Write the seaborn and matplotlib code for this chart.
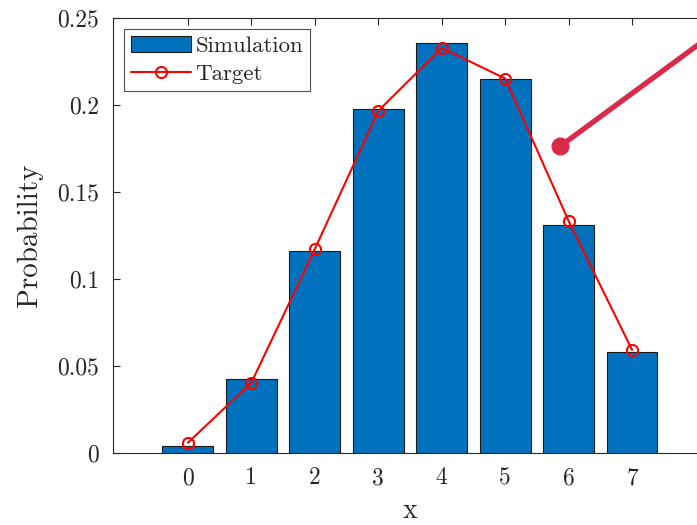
import numpy as np
import pandas as pd
import seaborn as sns
import matplotlib.pyplot as plt

# values
xs = [0, 1, 2, 3, 4, 5, 6, 7]
simulation = [0.0042, 0.0425, 0.116, 0.1977, 0.2354, 0.2149, 0.131, 0.058]
target = [0.0059, 0.0404, 0.1172, 0.1966, 0.2328, 0.2152, 0.1333, 0.0592]
yticks = [0, 0.05, 0.1, 0.15, 0.2, 0.25]
ytick_labels = ["0", "0.05", "0.1", "0.15", "0.2", "0.25"]
# annotation stroke (data coords), partly outside the figure
note_x = [5.87, 9.02]
note_y = [0.1764, 0.2609]

sns.set_style("white")
plt.rcParams['font.family'] = ['cmr10', 'DejaVu Serif']
plt.rcParams['mathtext.fontset'] = 'cm'
plt.rcParams['axes.formatter.use_mathtext'] = True

df = pd.DataFrame({"x": xs, "Simulation": simulation, "Target": target})

fig = plt.figure(figsize=(6.97, 5.25), dpi=100)
# axes runs a little past the right edge of the figure, as in the reference
ax = fig.add_axes([113 / 697, 72 / 525, 594 / 697, 435 / 525])

sns.barplot(data=df, x="x", y="Simulation", native_scale=True, width=0.8,
            color="#0072BD", saturation=1, edgecolor="#1a1a1a", linewidth=0.8,
            label="Simulation", ax=ax)
sns.lineplot(data=df, x="x", y="Target", color="red", lw=1.5, marker="o",
             markersize=8, markerfacecolor="none", markeredgecolor="red",
             markeredgewidth=1.5, label="Target", ax=ax)

ax.plot(note_x, note_y, color="#D92B47", lw=3.8, clip_on=False,
        solid_capstyle="round", zorder=5)
ax.plot(note_x[0], note_y[0], "o", color="#D92B47", markersize=12,
        clip_on=False, zorder=6)

ax.set_xlim(-1.18, 8.18)
ax.set_ylim(0, 0.25)
ax.set_xticks(xs)
ax.set_xticklabels([str(v) for v in xs])
ax.set_yticks(yticks)
ax.set_yticklabels(ytick_labels)
ax.tick_params(direction="in", length=5, width=0.8, labelsize=17,
               top=True, bottom=True, left=True, right=False, colors="#262626",
               labelcolor="#262626", pad=10)
for s in ax.spines.values():
    s.set_color("#262626")
    s.set_linewidth(0.8)
ax.set_xlabel("x", fontsize=20, color="#262626", labelpad=6)
ax.set_ylabel("Probability", fontsize=21, color="#262626", labelpad=10)

handles, labels = ax.get_legend_handles_labels()
order = [labels.index("Simulation"), labels.index("Target")]
leg = ax.legend([handles[i] for i in order], [labels[i] for i in order],
                loc="upper left", fontsize=16.5, frameon=True, fancybox=False,
                borderaxespad=0.5, handlelength=2.6, handletextpad=0.2,
                borderpad=0.3, labelspacing=0.35)
leg.get_frame().set_edgecolor("#262626")
leg.get_frame().set_linewidth(0.8)

fig.savefig("out.png", dpi=100)
